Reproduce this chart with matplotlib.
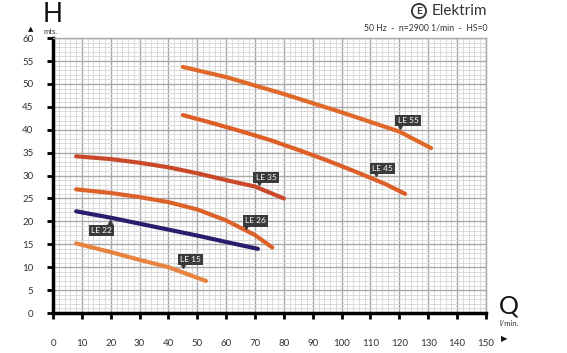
import matplotlib
matplotlib.use("Agg")
import matplotlib.pyplot as plt
from matplotlib.ticker import MultipleLocator
import numpy as np

plt.rcParams['font.family'] = ['Lato', 'DejaVu Sans']

# ---- data ----
le15_q = [8, 20, 30, 40, 53]
le15_h = [15.2, 13.3, 11.6, 10.0, 7.0]

le22_q = [8, 20, 30, 40, 50, 60, 71]
le22_h = [22.2, 20.8, 19.5, 18.2, 16.9, 15.5, 14.0]

le26_q = [8, 20, 30, 40, 50, 60, 70, 76]
le26_h = [27.0, 26.2, 25.3, 24.2, 22.6, 20.2, 17.0, 14.3]

le35_q = [8, 20, 30, 40, 50, 60, 70, 80]
le35_h = [34.2, 33.6, 32.8, 31.8, 30.5, 29.0, 27.6, 25.0]

le45_q = [45, 55, 65, 75, 85, 95, 105, 115, 122]
le45_h = [43.2, 41.5, 39.7, 37.8, 35.6, 33.3, 30.8, 28.2, 26.0]

le55_q = [45, 60, 80, 100, 120, 131]
le55_h = [53.7, 51.5, 47.8, 43.8, 39.6, 36.0]

series_names = ["LE 15", "LE 22", "LE 26", "LE 35", "LE 45", "LE 55"]
series_q = [le15_q, le22_q, le26_q, le35_q, le45_q, le55_q]
series_h = [le15_h, le22_h, le26_h, le35_h, le45_h, le55_h]

x_ticks = list(range(0, 151, 10))
y_ticks = list(range(0, 61, 5))

# ---- styles / layout ----
colors = ["#e8843f", "#2b1d6e", "#dc6229", "#c9492a", "#dd5f27", "#e0692a"]
# label box centre and pointer tip (data coords)
label_box = [(47.5, 11.7), (16.9, 18.0), (70.0, 20.1), (73.8, 29.6), (114.3, 31.6), (123.0, 42.0)]
label_tip = [(45.1, 9.6), (19.7, 20.6), (67.0, 18.2), (71.4, 27.6), (111.9, 29.6), (120.2, 40.0)]

fig = plt.figure(figsize=(5.67, 3.53), dpi=100)
ax = fig.add_axes([0.0935, 0.1133, 0.7635, 0.7787])

ax.set_xlim(0, 150)
ax.set_ylim(0, 60)
ax.xaxis.set_major_locator(MultipleLocator(10))
ax.yaxis.set_major_locator(MultipleLocator(5))
ax.xaxis.set_minor_locator(MultipleLocator(2))
ax.yaxis.set_minor_locator(MultipleLocator(1))
ax.grid(which='minor', color='#d6d6d6', lw=0.6)
ax.grid(which='major', color='#a8a8a8', lw=1.0)
ax.set_axisbelow(True)

for s in ['top', 'right']:
    ax.spines[s].set_color('#a8a8a8')
    ax.spines[s].set_linewidth(1.0)
for s in ['left', 'bottom']:
    ax.spines[s].set_color('black')
    ax.spines[s].set_linewidth(2.5)

ax.set_xticks(x_ticks)
ax.set_yticks(y_ticks)
ax.set_xticklabels([str(v) for v in x_ticks])
ax.set_yticklabels([str(v) for v in y_ticks])
ax.tick_params(which='major', direction='out', length=4, width=2, color='black',
               labelsize=7, labelcolor='#333333')
ax.tick_params(axis='x', pad=15)
ax.tick_params(axis='y', pad=10)
ax.tick_params(which='minor', length=0)

for i, name in enumerate(series_names):
    ax.plot(series_q[i], series_h[i], color=colors[i], lw=3.0,
            solid_capstyle='round', solid_joinstyle='round', zorder=3)
    bx, by = label_box[i]
    tx, ty = label_tip[i]
    up = ty > by
    ax.plot([tx], [ty + (-0.9 if up else 0.9)], marker='^' if up else 'v',
            color='#3a3a3a', ms=4, zorder=4, clip_on=False)
    ax.text(bx, by, name, ha='center', va='center', fontsize=6, color='white',
            zorder=5,
            bbox=dict(boxstyle='square,pad=0.25', fc='#3a3a3a', ec='none'))

# header texts
fig.text(43 / 567, 1 - 22 / 353, "H", fontsize=19, ha='left', va='baseline', color='#111111')
fig.text(44 / 567, 1 - 27.5 / 353, "mts.", fontsize=5.5, ha='left', va='top', color='#333333')
fig.text(31 / 567, 1 - 29 / 353, "▲", fontsize=5, ha='center', va='center', color='#111111',
         family=['DejaVu Sans'])
fig.text(509 / 567, 1 - 306 / 353, "Q", fontsize=18, ha='center', va='center', color='#111111')
fig.text(509 / 567, 1 - 324 / 353, "l/min.", fontsize=5.5, ha='center', va='center', color='#333333')
fig.text(504 / 567, 1 - 339 / 353, "▶", fontsize=6, ha='center', va='center', color='#111111',
         family=['DejaVu Sans'])

fig.text(419 / 567, 1 - 11 / 353, "E", fontsize=7.5, fontweight='bold', ha='center', va='center',
         color='#333333',
         bbox=dict(boxstyle='circle,pad=0.25', fc='none', ec='#333333', lw=1.3))
fig.text(432 / 567, 1 - 11 / 353, "Elektrim", fontsize=11, ha='left', va='center', color='#333333')
fig.text(487 / 567, 1 - 28 / 353, "50 Hz  -  n=2900 1/min  -  HS=0", fontsize=6.2,
         ha='right', va='center', color='#333333')

fig.savefig("out.png", dpi=100, facecolor='white')
